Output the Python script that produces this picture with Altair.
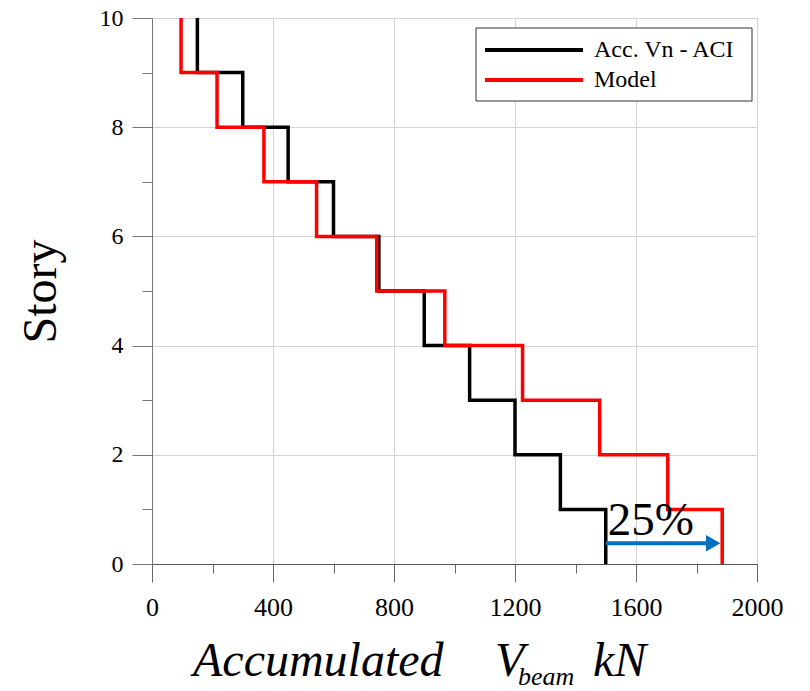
import altair as alt
import pandas as pd

# ---- data ----
stories = [0, 1, 2, 3, 4, 5, 6, 7, 8, 9]
aci_values = [1500, 1350, 1200, 1050, 900, 750, 600, 450, 300, 150]
model_values = [1885, 1705, 1480, 1225, 968, 743, 544, 370, 215, 96]
series_names = ["Acc. Vn - ACI", "Model"]
series_colors = ["#000000", "#ff0000"]

x_tick_values = [0, 200, 400, 600, 800, 1000, 1200, 1400, 1600, 1800, 2000]
y_tick_values = [0, 1, 2, 3, 4, 5, 6, 7, 8, 9, 10]

arrow_from = [1500]
arrow_to = [1885]
arrow_story = [0.38]
note_text = ["25%"]
note_story = [0.53]

serif = "'Liberation Serif', 'Times New Roman', 'DejaVu Serif', serif"

# ---- build step-line vertices ----
rows = []
for name, vals in zip(series_names, [aci_values, model_values]):
    i = 0
    for s, v in zip(stories, vals):
        rows.append({"series": name, "x": v, "y": s, "i": i})
        i += 1
        rows.append({"series": name, "x": v, "y": s + 1, "i": i})
        i += 1
df = pd.DataFrame(rows)

xscale = alt.Scale(domain=[0, 2000], nice=False)
yscale = alt.Scale(domain=[0, 10], nice=False)

xaxis = alt.Axis(
    values=x_tick_values, format="d", title=None,
    labelExpr="datum.value % 400 === 0 ? datum.label : ''",
    tickSize={"condition": {"test": "datum.value % 400 === 0", "value": 18}, "value": 9},
    gridOpacity={"condition": {"test": "datum.value % 400 === 0", "value": 1}, "value": 0},
    labelFont=serif, labelFontSize=26, labelPadding=12, labelColor="black",
    labelFlush=False, labelOverlap=False,
    domainColor="#555555", tickColor="#666666", gridColor="#d4d4d4",
)
yaxis = alt.Axis(
    values=y_tick_values, format="d", title="Story",
    labelExpr="datum.value % 2 === 0 ? datum.label : ''",
    tickSize={"condition": {"test": "datum.value % 2 === 0", "value": 20}, "value": 10},
    gridOpacity={"condition": {"test": "datum.value % 2 === 0", "value": 1}, "value": 0},
    labelFont=serif, labelFontSize=24, labelPadding=9, labelColor="black",
    labelFlush=False, labelOverlap=False,
    titleFont=serif, titleFontSize=48, titleFontWeight="normal", titleColor="black",
    titlePadding=34,
    domainColor="#777777", tickColor="#777777", gridColor="#d4d4d4",
)

lines = alt.Chart(df).mark_line(strokeWidth=3.5).encode(
    x=alt.X("x:Q", scale=xscale, axis=xaxis),
    y=alt.Y("y:Q", scale=yscale, axis=yaxis),
    color=alt.Color(
        "series:N",
        scale=alt.Scale(domain=series_names, range=series_colors),
        legend=None,
    ),
    order=alt.Order("i:Q"),
)

arrow_df = pd.DataFrame({"x": arrow_from, "x2": arrow_to, "y": arrow_story})
shaft = alt.Chart(arrow_df).mark_rule(color="#0070C0", strokeWidth=4, x2Offset=-12).encode(
    x=alt.X("x:Q", scale=xscale), x2="x2:Q", y=alt.Y("y:Q", scale=yscale)
)
head = alt.Chart(arrow_df).mark_point(
    shape="triangle-right", filled=True, color="#0070C0", size=280, opacity=1, xOffset=-9
).encode(x=alt.X("x2:Q", scale=xscale), y=alt.Y("y:Q", scale=yscale))

note_df = pd.DataFrame({"x": arrow_from, "y": note_story, "t": note_text})
note = alt.Chart(note_df).mark_text(
    align="left", baseline="alphabetic", font=serif, fontSize=47, color="black", dx=2
).encode(x=alt.X("x:Q", scale=xscale), y=alt.Y("y:Q", scale=yscale), text="t:N")

one = pd.DataFrame({"a": [0]})

def title_piece(txt, px, py, size):
    return alt.Chart(one).mark_text(
        align="left", baseline="alphabetic", font=serif, fontSize=size,
        fontStyle="italic", color="black"
    ).encode(x=alt.value(px), y=alt.value(py), text=alt.value(txt))

xtitle = (
    title_piece("Accumulated", 41, 658, 48)
    + title_piece("V", 343, 658, 48)
    + title_piece("beam", 366, 667, 26)
    + title_piece("kN", 441, 658, 48)
)

# ---- legend box (drawn as marks) ----
legend_box = alt.Chart(one).mark_rect(fill="white", stroke="#333333", strokeWidth=1).encode(
    x=alt.value(324), x2=alt.value(600), y=alt.value(10), y2=alt.value(83)
)
legend_parts = [legend_box]
for k, (name, col) in enumerate(zip(series_names, series_colors)):
    ly = 32 + 30 * k
    legend_parts.append(
        alt.Chart(one).mark_rule(color=col, strokeWidth=4).encode(
            x=alt.value(333), x2=alt.value(431), y=alt.value(ly)
        )
    )
    legend_parts.append(
        alt.Chart(one).mark_text(
            align="left", baseline="middle", font=serif, fontSize=24, color="black"
        ).encode(x=alt.value(442), y=alt.value(ly), text=alt.value(name))
    )

chart = alt.layer(lines, shaft, head, note, xtitle, *legend_parts).properties(
    width=605, height=546,
    autosize=alt.AutoSizeParams(type="none"),
    padding={"left": 152, "top": 18, "right": 53, "bottom": 127},
    background="white",
).configure_view(stroke="#333333", strokeWidth=1)

chart.save("out.html", embed_options={"renderer": "svg", "actions": False})
